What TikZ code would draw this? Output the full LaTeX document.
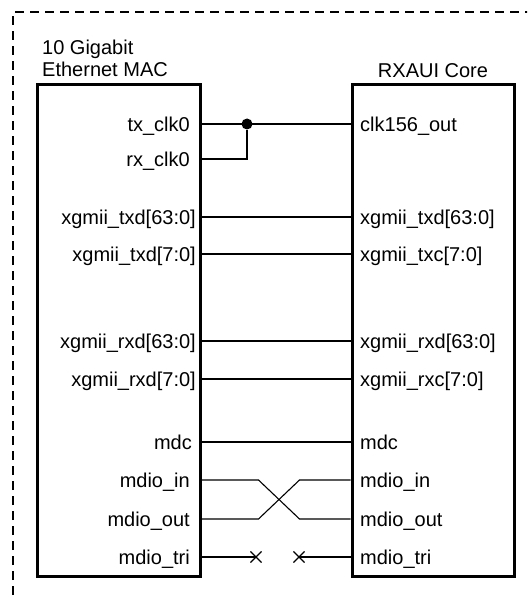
\documentclass[tikz,border=0pt]{standalone}
\usepackage{fontspec}
\setmainfont{Liberation Sans}
\usepackage{tikz}
\usetikzlibrary{shapes.misc}

\begin{document}
\begin{tikzpicture}[x=1pt,y=-1pt,font=\fontsize{20}{22}\selectfont,
 core/.style={draw,line width=3pt,minimum height=491pt,inner sep=0pt},
 title/.style={inner sep=0pt,align=left},
 lport/.style={anchor=east,inner sep=0pt,text height=19pt,text depth=4.3pt},
 rport/.style={anchor=west,inner sep=0pt,text height=19pt,text depth=4.3pt},
 wire/.style={line width=1.1pt},
 frame/.style={line width=2.8pt,dash pattern=on 9pt off 6pt},
 dot/.style={circle,fill,inner sep=0pt,minimum size=11pt},
 xmark/.style={cross out,draw,line width=1.1pt,inner sep=0pt,minimum size=10pt}]
\clip (0,0) rectangle (527,596);
\draw[frame] (13,640) |- (580,12);
% the two cores
\node[core,minimum width=163pt] (mac) at (118.5,330.5) {};
\node[core,minimum width=162pt] (rxaui) at (433,330.5) {};
\node[title,anchor=base west] (mact) at (42,77) {10 Gigabit\\Ethernet MAC};
\node[title,anchor=base] (rxt) at (433,78) {RXAUI Core};
% MAC ports
\node[lport] (ltx) at (190,124) {tx\_clk0};
\node[lport] (lrx) at (190,159) {rx\_clk0};
\node[lport] (ltxd) at (196,217) {xgmii\_txd[63:0]};
\node[lport] (ltxc) at (196,254) {xgmii\_txd[7:0]};
\node[lport] (lrxd) at (196,341) {xgmii\_rxd[63:0]};
\node[lport] (lrxc) at (196,379) {xgmii\_rxd[7:0]};
\node[lport] (lmdc) at (192,442) {mdc};
\node[lport] (lin) at (190,480) {mdio\_in};
\node[lport] (lout) at (190,519) {mdio\_out};
\node[lport] (ltri) at (190,557) {mdio\_tri};
% RXAUI ports
\node[rport] (rclk) at (360,124) {clk156\_out};
\node[rport] (rtxd) at (360,217) {xgmii\_txd[63:0]};
\node[rport] (rtxc) at (360,254) {xgmii\_txc[7:0]};
\node[rport] (rrxd) at (360,341) {xgmii\_rxd[63:0]};
\node[rport] (rrxc) at (360,379) {xgmii\_rxc[7:0]};
\node[rport] (rmdc) at (360,442) {mdc};
\node[rport] (rin) at (360,480) {mdio\_in};
\node[rport] (rout) at (360,519) {mdio\_out};
\node[rport] (rtri) at (360,557) {mdio\_tri};
% clocks
\node[dot] (jn) at (247,124) {};
\draw[wire] (ltx -| mac.east) -- (rclk -| rxaui.west);
\draw[wire] (lrx -| mac.east) -| (jn);
% data
\draw[wire] (ltxd -| mac.east) -- (rtxd -| rxaui.west);
\draw[wire] (ltxc -| mac.east) -- (rtxc -| rxaui.west);
\draw[wire] (lrxd -| mac.east) -- (rrxd -| rxaui.west);
\draw[wire] (lrxc -| mac.east) -- (rrxc -| rxaui.west);
% management
\draw[wire] (lmdc -| mac.east) -- (rmdc -| rxaui.west);
\draw[wire] (lin -| mac.east) -- ++(57,0) -- ++(41,39) -- (rout -| rxaui.west);
\draw[wire] (lout -| mac.east) -- ++(57,0) -- ++(41,-39) -- (rin -| rxaui.west);
\node[xmark] (xl) at (256,557) {};
\node[xmark] (xr) at (299,557) {};
\draw[wire] (ltri -| mac.east) -- (xl.center);
\draw[wire] (rtri -| rxaui.west) -- (xr.center);
\end{tikzpicture}
\end{document}
